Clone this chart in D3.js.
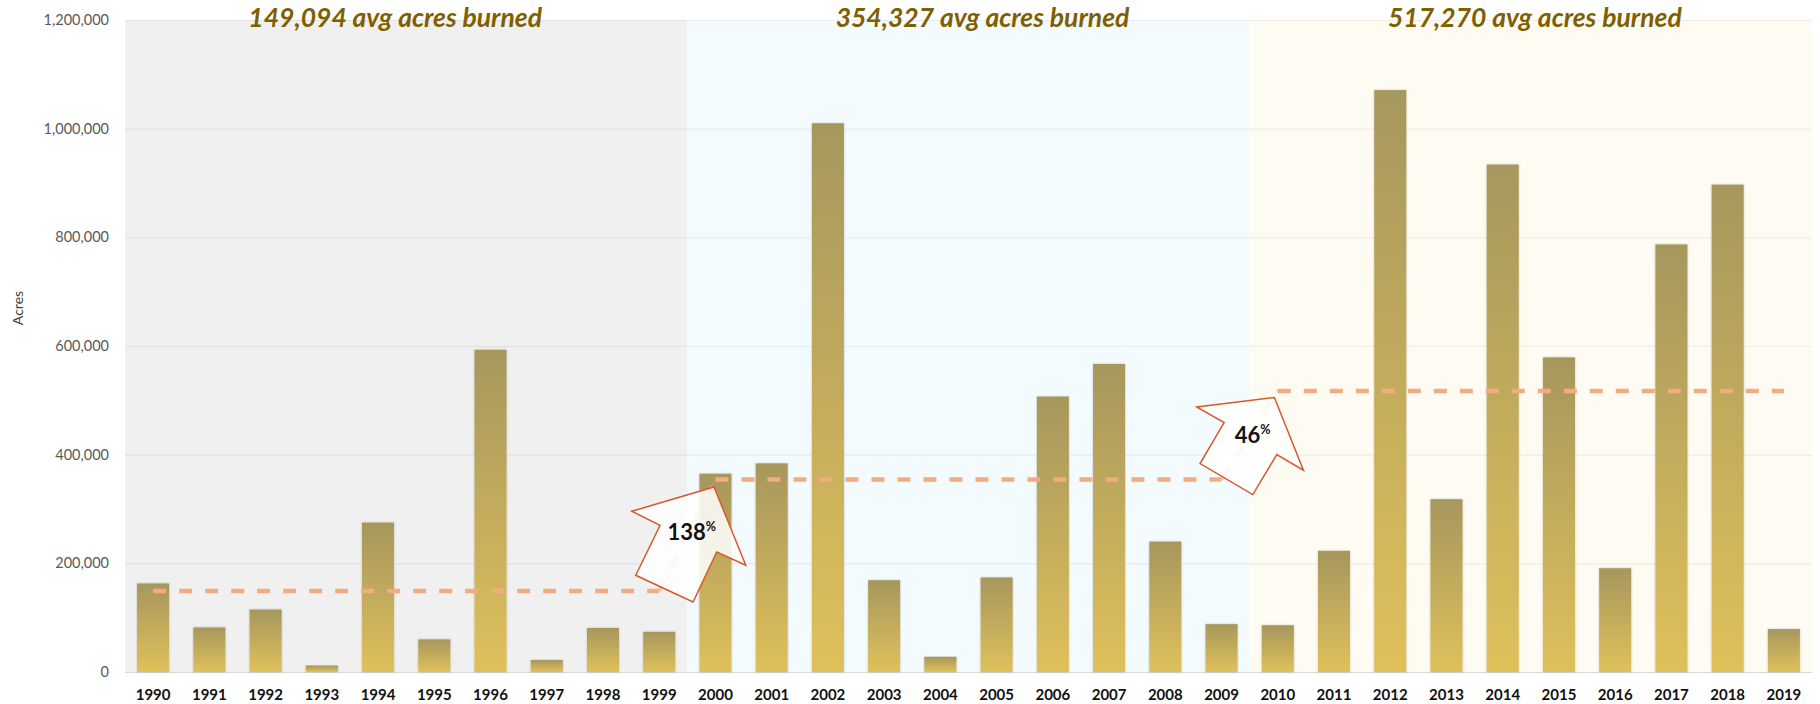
<!DOCTYPE html>
<html>
<head>
<meta charset="utf-8">
<script src="https://cdn.jsdelivr.net/npm/d3@7/dist/d3.min.js"></script>
<style>
  body { margin: 0; background: #fff; }
  #chart { font-family: Lato, "Open Sans", sans-serif; }
</style>
</head>
<body>
<div id="chart"></div>
<script>
// Data
const years = ["1990","1991","1992","1993","1994","1995","1996","1997","1998","1999",
               "2000","2001","2002","2003","2004","2005","2006","2007","2008","2009",
               "2010","2011","2012","2013","2014","2015","2016","2017","2018","2019"];
const acres = [163000, 82000, 115000, 12000, 275000, 60000, 593000, 22000, 81000, 74000,
               365000, 384000, 1010000, 169000, 28000, 174000, 507000, 567000, 240000, 88000,
               86000, 223000, 1071000, 318000, 934000, 579000, 191000, 787000, 897000, 79000];
const decadeFirst = ["1990", "2000", "2010"];
const decadeLast = ["1999", "2009", "2019"];
const decadeAvg = [149094, 354327, 517270];
const decadeTitles = ["149,094 avg acres burned", "354,327 avg acres burned", "517,270 avg acres burned"];
const changePct = ["138", "46"];
const yTicks = [0, 200000, 400000, 600000, 800000, 1000000, 1200000];

// Dimensions
const width = 1820;
const height = 704;
const margin = { top: 20, right: 8, bottom: 32, left: 125 };

const svg = d3.select("#chart")
    .append("svg")
    .attr("width", width)
    .attr("height", height);

const defs = svg.append("defs");

// Bar gradient (per bar bounding box)
const grad = defs.append("linearGradient")
    .attr("id", "barGrad")
    .attr("x1", 0).attr("y1", 0).attr("x2", 0).attr("y2", 1);
grad.append("stop").attr("offset", "0%").attr("stop-color", "#a6975d");
grad.append("stop").attr("offset", "100%").attr("stop-color", "#dfc05a");

const shadow = defs.append("filter")
    .attr("id", "shadow")
    .attr("x", "-20%").attr("y", "-5%").attr("width", "140%").attr("height", "110%");
shadow.append("feDropShadow")
    .attr("dx", 0).attr("dy", 0)
    .attr("stdDeviation", 1.2)
    .attr("flood-color", "#000")
    .attr("flood-opacity", 0.22);

// Scales
const x = d3.scaleBand()
    .domain(years)
    .range([margin.left, width - margin.right])
    .paddingInner(0.43)
    .paddingOuter(0.215);

const y = d3.scaleLinear()
    .domain([0, 1200000])
    .range([height - margin.bottom, margin.top]);

const step = x.step();
const cx = d => x(d) + x.bandwidth() / 2;

// Decade background panels
const bgColors = ["#f0f0f0", "#f3fbfe", "#fefbf3"];
svg.append("g")
    .selectAll("rect")
    .data(decadeFirst)
    .enter()
    .append("rect")
    .attr("x", (d, i) => x(d) - x.paddingInner() * step / 2)
    .attr("y", y(1200000))
    .attr("width", (d, i) => (x(decadeLast[i]) + x.bandwidth() + x.paddingInner() * step / 2) - (x(d) - x.paddingInner() * step / 2))
    .attr("height", y(0) - y(1200000))
    .attr("fill", (d, i) => bgColors[i]);

// Grid lines
svg.append("g")
    .attr("class", "grid")
    .selectAll("line")
    .data(yTicks)
    .enter()
    .append("line")
    .attr("x1", margin.left)
    .attr("x2", width - margin.right)
    .attr("y1", d => y(d) + 0.5)
    .attr("y2", d => y(d) + 0.5)
    .attr("stroke", d => d === 0 ? "#d9d9d9" : "#000")
    .attr("stroke-opacity", d => d === 0 ? 1 : 0.06)
    .attr("stroke-width", 1.2);

// Y axis
const yAxis = svg.append("g")
    .attr("transform", `translate(${margin.left},0)`)
    .call(d3.axisLeft(y).tickValues(yTicks).tickFormat(d3.format(",")).tickSize(0).tickPadding(16));
yAxis.select(".domain").remove();
yAxis.selectAll("text")
    .style("font-family", "Lato, sans-serif")
    .style("font-size", "14.5px")
    .attr("fill", "#595959");

// X axis
const xAxis = svg.append("g")
    .attr("transform", `translate(0,${y(0)})`)
    .call(d3.axisBottom(x).tickSize(0));
xAxis.select(".domain").remove();
xAxis.selectAll("text")
    .attr("y", 28)
    .attr("dy", 0)
    .style("font-family", "Lato, sans-serif")
    .style("font-size", "15px")
    .style("font-weight", "bold")
    .attr("fill", "#111");

// Y axis label
svg.append("text")
    .attr("text-anchor", "middle")
    .attr("transform", `translate(23,308) rotate(-90)`)
    .text("Acres")
    .style("font-family", "Lato, sans-serif")
    .style("font-size", "14px")
    .attr("fill", "#404040");

// Bars
svg.append("g")
    .selectAll("rect")
    .data(years)
    .enter()
    .append("rect")
    .attr("x", d => x(d))
    .attr("y", (d, i) => y(acres[i]))
    .attr("width", x.bandwidth())
    .attr("height", (d, i) => y(0) - y(acres[i]))
    .attr("fill", "url(#barGrad)")
    .attr("filter", "url(#shadow)");

// Average lines: horizontal dashes per decade plus faint connectors
const avgLine = d3.line().x(d => d[0]).y(d => d[1]);
decadeFirst.forEach((d, i) => {
    svg.append("path")
        .attr("d", avgLine([[cx(d), y(decadeAvg[i])], [cx(decadeLast[i]), y(decadeAvg[i])]]))
        .attr("fill", "none")
        .attr("stroke", "#f4ab80")
        .attr("stroke-width", 4.5)
        .attr("stroke-dasharray", "13 13");
    if (i > 0) {
        svg.append("path")
            .attr("d", avgLine([[cx(decadeLast[i - 1]), y(decadeAvg[i - 1])], [cx(d), y(decadeAvg[i])]]))
            .attr("fill", "none")
            .attr("stroke", "#f4ab80")
            .attr("stroke-width", 4)
            .attr("stroke-dasharray", "13 13")
            .attr("opacity", 0.6);
    }
});

// Change arrows, shapes relative to the next decade's first bar centre at its average
const arrowShapes = [
    [[-1.4, 7.5], [30.3, 85.8], [1.3, 72.5], [-22.4, 122.5], [-79.7, 95.8], [-55.4, 45.8], [-83.7, 31.8]],
    [[-3.4, 6.6], [25.6, 79.3], [-1, 63.6], [-25, 103.6], [-77.7, 72.6], [-53.7, 31.6], [-81, 16]]
];
const arrowText = [[-48, 61], [-43, 52]];

changePct.forEach((pct, i) => {
    const ax = cx(decadeFirst[i + 1]);
    const ay = y(decadeAvg[i + 1]);
    svg.append("path")
        .attr("d", avgLine(arrowShapes[i].map(p => [ax + p[0], ay + p[1]])) + "Z")
        .attr("fill", "#fff")
        .attr("fill-opacity", 0.86)
        .attr("stroke", "#d9572e")
        .attr("stroke-width", 1.5)
        .attr("stroke-linejoin", "miter");
    const t = svg.append("text")
        .attr("x", ax + arrowText[i][0])
        .attr("y", ay + arrowText[i][1])
        .style("font-family", "Lato, sans-serif")
        .style("font-weight", "bold")
        .style("font-size", "22px")
        .attr("fill", "#111");
    t.append("tspan").text(pct);
    t.append("tspan")
        .attr("dy", -9)
        .style("font-size", "12.5px")
        .text("%");
});

// Decade titles
const titleOffset = [-11, 14, 4];
svg.append("g")
    .selectAll("text")
    .data(decadeTitles)
    .enter()
    .append("text")
    .attr("text-anchor", "middle")
    .attr("x", (d, i) => (x(decadeFirst[i]) + x(decadeLast[i]) + x.bandwidth()) / 2 + titleOffset[i])
    .attr("y", 27)
    .text(d => d)
    .style("font-family", "Lato, sans-serif")
    .style("font-size", "26.5px")
    .style("font-weight", "bold")
    .style("font-style", "italic")
    .attr("fill", "#7f6000");
</script>
</body>
</html>
